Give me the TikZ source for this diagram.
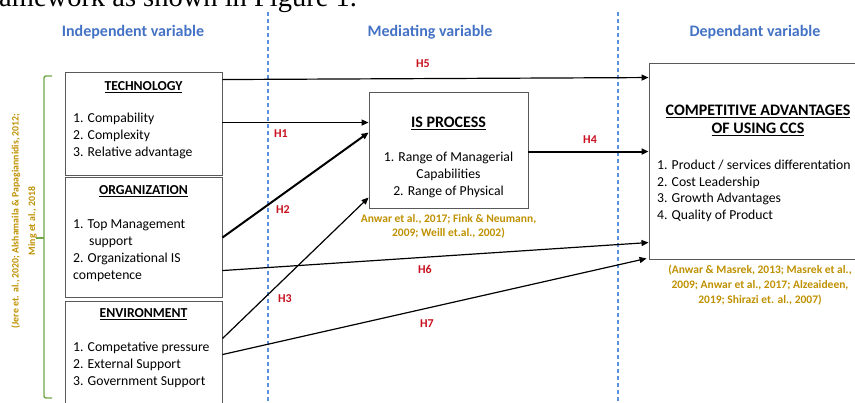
\documentclass[tikz,border=0pt]{standalone}
\usepackage{fontspec}
\setmainfont{Carlito}
\newfontfamily\serifx{Liberation Serif}
\usetikzlibrary{arrows.meta}
\definecolor{gold}{RGB}{191,144,0}
\definecolor{hred}{RGB}{200,16,30}
\definecolor{hblue}{RGB}{68,114,196}
\definecolor{dblue}{RGB}{91,145,220}
\definecolor{bgreen}{RGB}{112,168,71}
\tikzset{
  box/.style={draw=black!65, line width=0.9pt, inner sep=0pt},
  txt/.style={font=\fontsize{13.7}{17}\selectfont, inner sep=0pt, anchor=base west},
  ctxt/.style={font=\fontsize{13.7}{17}\selectfont, inner sep=0pt, anchor=base},
  ttl/.style={font=\fontsize{13.7}{17}\selectfont\bfseries, inner sep=0pt, anchor=base},
  bigttl/.style={font=\fontsize{16}{18}\selectfont\bfseries, inner sep=0pt, anchor=base},
  cite/.style={font=\fontsize{11.5}{14}\selectfont\bfseries, text=gold, inner sep=0pt, anchor=base},
  hyp/.style={font=\fontsize{12}{14}\selectfont\bfseries, text=hred, inner sep=0pt},
  head/.style={font=\fontsize{16}{18}\selectfont\bfseries, text=hblue, inner sep=0pt, anchor=base},
  vdash/.style={draw=dblue, line width=1.1pt, dash pattern=on 4pt off 3pt},
  arr/.style={-{Triangle[length=7pt,width=6pt]}, line width=1.2pt},
  tarr/.style={-{Triangle[length=7pt,width=6pt]}, line width=2pt},
}
\begin{document}
\begin{tikzpicture}[x=1pt,y=-1pt]
\useasboundingbox (0,0) rectangle (855,403);
\clip (0,0) rectangle (855,403);
% top partial text
\node[anchor=base west, font=\serifx\fontsize{28.5}{30}\selectfont, inner sep=0pt] (toptext) at (-1,7) {amework as shown in Figure 1.};
% dashed separators
\draw[vdash] (268,12) -- (268,403);
\draw[vdash] (618,12) -- (618,403);
% headers
\node[head] (h1) at (133,37) {Independent variable};
\node[head] (h2) at (430,37) {Mediating variable};
\node[head] (h3) at (755,37) {Dependant variable};
% boxes
\node[box, minimum width=157pt, minimum height=103pt] (tech) at (143.5,123.5) {};
\node[box, minimum width=157pt, minimum height=120pt] (org) at (143.5,237) {};
\node[box, minimum width=157pt, minimum height=119pt] (env) at (143.5,360.5) {};
\node[box, minimum width=159pt, minimum height=116pt] (isp) at (448.5,150) {};
\node[box, minimum width=221pt, minimum height=196pt] (ccs) at (759.5,161) {};
% technology text
\node[ttl] (techT) at (143.5,91) {\underline{TECHNOLOGY}};
\node[txt] (t1) at (73,123) {1. Compability};
\node[txt] (t2) at (73,140) {2. Complexity};
\node[txt] (t3) at (73,157) {3. Relative advantage};
% organization
\node[ttl] (orgT) at (143.5,195) {\underline{ORGANIZATION}};
\node[txt] (o1) at (73,229) {1. Top Management};
\node[txt] (o2) at (89,246) {support};
\node[txt] (o3) at (73,263) {2. Organizational IS};
\node[txt] (o4) at (73,280) {competence};
% environment
\node[ttl] (envT) at (143.5,318) {\underline{ENVIRONMENT}};
\node[txt] (e1) at (73,352) {1. Competative pressure};
\node[txt] (e2) at (73,369) {2. External Support};
\node[txt] (e3) at (73,386) {3. Government Support};
% IS process
\node[bigttl] (ispT) at (448.5,128) {\underline{IS PROCESS}};
\node[ctxt] (i1) at (448.5,162) {1. Range of Managerial};
\node[ctxt] (i2) at (448.5,179) {Capabilities};
\node[ctxt] (i3) at (448.5,196) {2. Range of Physical};
\node[cite] (ic1) at (448.5,223) {Anwar et al., 2017; Fink \& Neumann,};
\node[cite] (ic2) at (448.5,237) {2009; Weill et.al., 2002)};
% CCS
\node[bigttl] (ccsT1) at (758,116) {\underline{COMPETITIVE ADVANTAGES}};
\node[bigttl] (ccsT2) at (758,134) {\underline{OF USING CCS}};
\node[txt] (c1) at (657,170) {1. Product / services differentation};
\node[txt] (c2) at (657,187) {2. Cost Leadership};
\node[txt] (c3) at (657,203) {3. Growth Advantages};
\node[txt] (c4) at (657,220) {4. Quality of Product};
\node[cite] (cc1) at (760,274) {(Anwar \& Masrek, 2013; Masrek et al.,};
\node[cite] (cc2) at (760,289) {2009; Anwar et al., 2017; Alzeaideen,};
\node[cite] (cc3) at (760,304) {2019; Shirazi et. al., 2007)};
% left citation and brace
\node[rotate=90, align=center, font=\fontsize{9.8}{16.5}\selectfont\bfseries, text=gold, inner sep=0pt] (lcite) at (24,221) {(Jere et. al., 2020; Alshamaila \& Papagiannidis, 2012;\\ Ming et al., 2018};
\draw[bgreen, line width=1.4pt, rounded corners=2pt] (52,76) -- (44,76) -- (44,398) -- (52,398);
\draw[bgreen, line width=1.4pt] (44,238) -- (36,238);
% arrows
\draw[arr] ([yshift=-8pt]tech.north east) -- ([yshift=-15pt]ccs.north west);
\draw[arr] ([yshift=-51pt]tech.north east) -- ([yshift=-31pt]isp.north west);
\draw[tarr] ([yshift=-61pt]org.north east) -- ([yshift=-41pt]isp.north west);
\draw[arr] ([yshift=-38pt]env.north east) -- ([yshift=-106pt]isp.north west);
\draw[tarr] ([yshift=-60pt]isp.north east) -- ([yshift=-89pt]ccs.north west);
\draw[arr] ([yshift=-94pt]org.north east) -- ([yshift=-180pt]ccs.north west);
\draw[arr] ([yshift=-54pt]env.north east) -- ([xshift=-2pt,yshift=1pt]ccs.south west);
% hypothesis labels
\node[hyp] (H5) at (423,64) {H5};
\node[hyp] (H1) at (281,134) {H1};
\node[hyp] (H2) at (283,210) {H2};
\node[hyp] (H3) at (285,299) {H3};
\node[hyp] (H4) at (590,140) {H4};
\node[hyp] (H6) at (425,269) {H6};
\node[hyp] (H7) at (427,324) {H7};
\end{tikzpicture}
\end{document}
